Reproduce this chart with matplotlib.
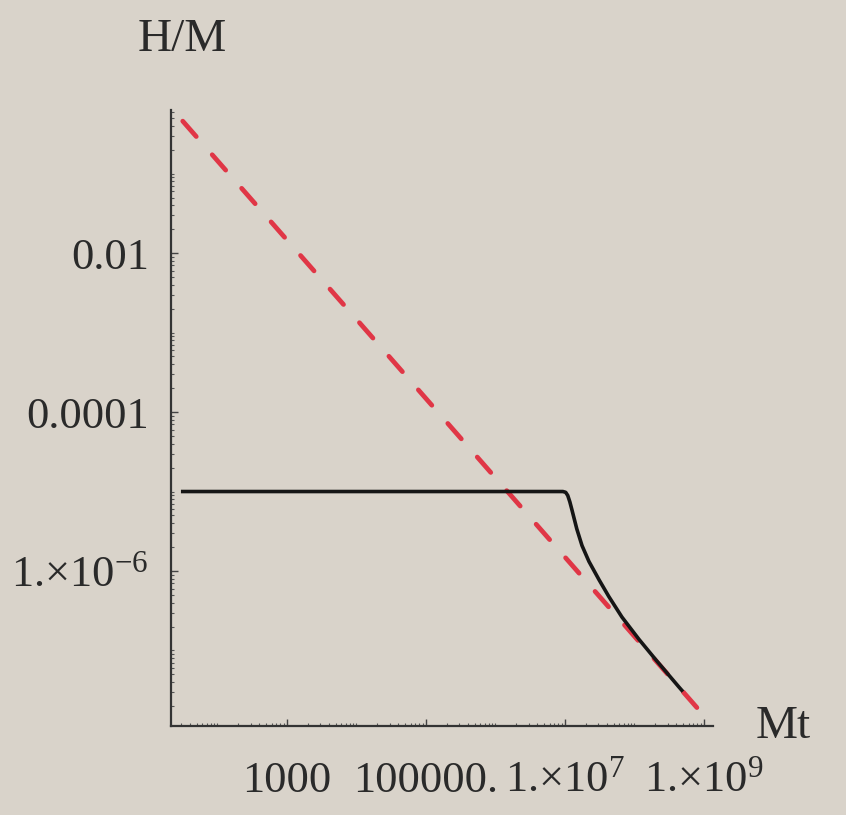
import numpy as np
import matplotlib
matplotlib.use("Agg")
import matplotlib.pyplot as plt
from matplotlib.ticker import FixedLocator, LogLocator, NullFormatter

plt.rcParams['font.family'] = ['Liberation Serif', 'DejaVu Serif']
plt.rcParams['mathtext.fontset'] = 'custom'
plt.rcParams['mathtext.rm'] = 'Liberation Serif'
plt.rcParams['mathtext.default'] = 'regular'

# ---- data (log10 values) ----
black_logx = [1.50, 6.97, 7.01, 7.04, 7.07, 7.10, 7.17, 7.245, 7.345, 7.49, 7.63, 7.82, 8.065, 8.31, 8.64, 8.68]
black_logy = [-5.00, -5.00, -5.01, -5.05, -5.13, -5.23, -5.47, -5.68, -5.88, -6.11, -6.32, -6.58, -6.86, -7.12, -7.46, -7.50]
dashed_logx = [1.50, 8.90]
dashed_logy = [-0.34, -7.72]

xticks = [1e3, 1e5, 1e7, 1e9]
xtick_labels = ["1000", "100000.", "1.×10$^{7}$", "1.×10$^{9}$"]
yticks = [1e-2, 1e-4, 1e-6]
ytick_labels = ["0.01", "0.0001", "1.×10$^{-6}$"]
xlim = (10**1.331, 10**9.13)
ylim = (10**-7.95, 10**-0.2)

bg = '#d9d3ca'
fig = plt.figure(figsize=(8.46, 8.15), dpi=100, facecolor=bg)
ax = fig.add_axes([171/846, 1-726/815, (713-171)/846, (726-110)/815])
ax.set_facecolor(bg)

ax.plot(10**np.array(dashed_logx), 10**np.array(dashed_logy), color='#e03646',
        lw=3.4, linestyle=(0, (4.34, 5.12)), solid_capstyle='round', dash_capstyle='round', zorder=3)
ax.plot(10**np.array(black_logx), 10**np.array(black_logy), color='#151515', lw=2.6,
        solid_joinstyle='round', zorder=4)

ax.set_xscale('log')
ax.set_yscale('log')
ax.set_xlim(*xlim)
ax.set_ylim(*ylim)

ax.xaxis.set_major_locator(FixedLocator(xticks))
ax.set_xticks(xticks)
ax.set_xticklabels(xtick_labels)
ax.yaxis.set_major_locator(FixedLocator(yticks))
ax.set_yticks(yticks)
ax.set_yticklabels(ytick_labels)
ax.xaxis.set_minor_locator(LogLocator(base=10, subs=np.arange(1, 10), numticks=100))
ax.yaxis.set_minor_locator(LogLocator(base=10, subs=np.arange(1, 10), numticks=100))
ax.xaxis.set_minor_formatter(NullFormatter())
ax.yaxis.set_minor_formatter(NullFormatter())

ax.tick_params(which='major', direction='in', length=5, width=1.0, color='#444444',
               labelsize=32, labelcolor='#2a2a2a', pad=16)
ax.tick_params(which='minor', direction='in', length=2.5, width=0.8, color='#555555')
ax.tick_params(axis='x', which='major', pad=25)

for s in ['top', 'right']:
    ax.spines[s].set_visible(False)
for s in ['left', 'bottom']:
    ax.spines[s].set_color('#333333')
    ax.spines[s].set_linewidth(1.6)

fig.text(182/846, 1-40/815, "H/M", fontsize=34, color='#2a2a2a', ha='center', va='center')
fig.text(783/846, 1-727/815, "Mt", fontsize=34, color='#2a2a2a', ha='center', va='center')

fig.savefig('out.png', dpi=100, facecolor=bg)
